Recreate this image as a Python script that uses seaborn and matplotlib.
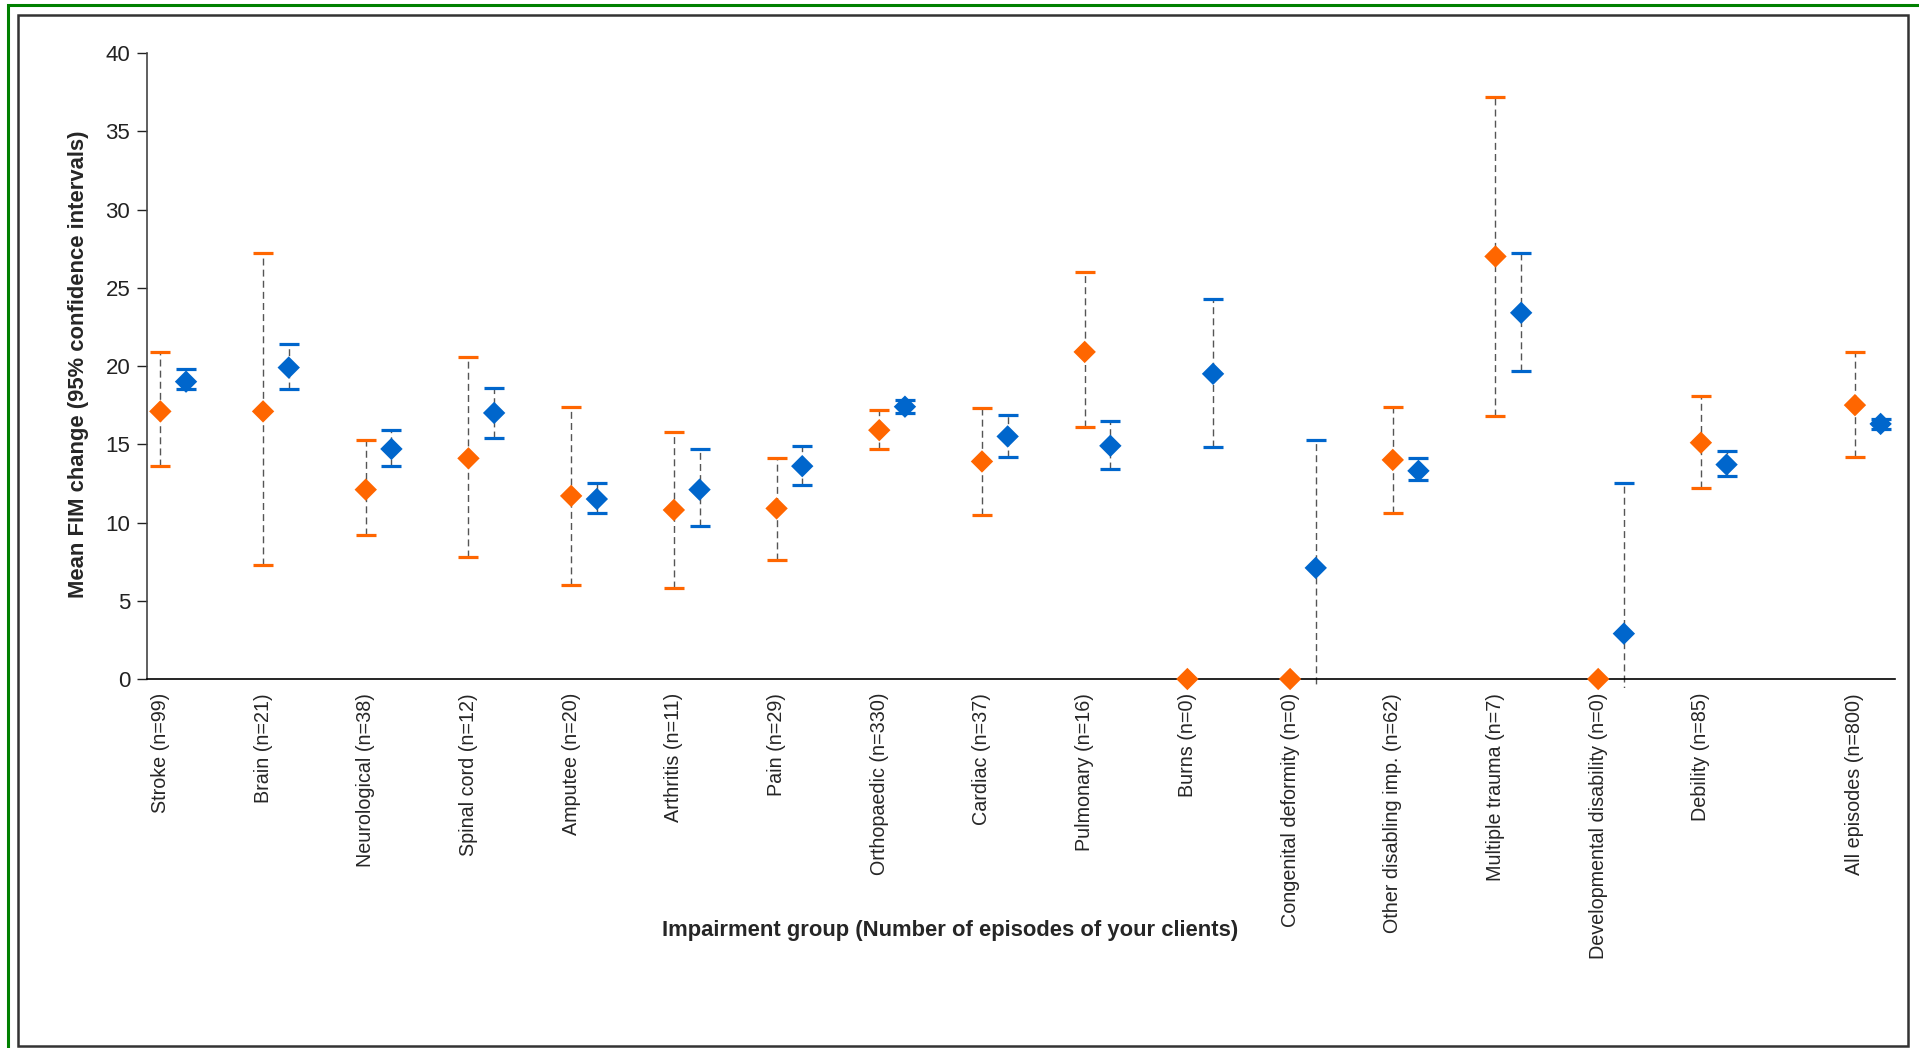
import numpy as np
import pandas as pd
import matplotlib
matplotlib.use('Agg')
import matplotlib.pyplot as plt
import seaborn as sns
from matplotlib.patches import Rectangle

groups = ['Stroke (n=99)', 'Brain (n=21)', 'Neurological (n=38)', 'Spinal cord (n=12)',
          'Amputee (n=20)', 'Arthritis (n=11)', 'Pain (n=29)', 'Orthopaedic (n=330)',
          'Cardiac (n=37)', 'Pulmonary (n=16)', 'Burns (n=0)', 'Congenital deformity (n=0)',
          'Other disabling imp. (n=62)', 'Multiple trauma (n=7)',
          'Developmental disability (n=0)', 'Debility (n=85)', 'All episodes (n=800)']

# your clients (orange)
own_mean = [17.1, 17.1, 12.1, 14.1, 11.7, 10.8, 10.9, 15.9, 13.9, 20.9, 0.0, 0.0, 14.0, 27.0, 0.0, 15.1, 17.5]
own_low = [13.6, 7.3, 9.2, 7.8, 6.0, 5.8, 7.6, 14.7, 10.5, 16.1, np.nan, np.nan, 10.6, 16.8, np.nan, 12.2, 14.2]
own_high = [20.9, 27.2, 15.3, 20.6, 17.4, 15.8, 14.1, 17.2, 17.3, 26.0, np.nan, np.nan, 17.4, 37.2, np.nan, 18.1, 20.9]

# all clients (blue)
all_mean = [19.0, 19.9, 14.7, 17.0, 11.5, 12.1, 13.6, 17.4, 15.5, 14.9, 19.5, 7.1, 13.3, 23.4, 2.9, 13.7, 16.3]
all_low = [18.5, 18.5, 13.6, 15.4, 10.6, 9.8, 12.4, 17.0, 14.2, 13.4, 14.8, -1.0, 12.7, 19.7, -6.6, 13.0, 16.0]
all_high = [19.8, 21.4, 15.9, 18.6, 12.5, 14.7, 14.9, 17.8, 16.9, 16.5, 24.3, 15.3, 14.1, 27.2, 12.5, 14.6, 16.6]

series = ['Your clients', 'All clients']
colors = {'Your clients': '#FF6600', 'All clients': '#0066CC'}

pos = np.arange(len(groups), dtype=float)
pos[-1] += 0.5  # gap before the "All episodes" group
offset = {'Your clients': 0.0, 'All clients': 0.25}

df = pd.concat([
    pd.DataFrame({'group': groups, 'series': s, 'mean': m, 'low': lo, 'high': hi})
    for s, m, lo, hi in [('Your clients', own_mean, own_low, own_high),
                         ('All clients', all_mean, all_low, all_high)]
], ignore_index=True)
df['x'] = np.tile(pos, 2) + df['series'].map(offset)

sns.set_theme(style='white')
plt.rcParams['font.family'] = ['Liberation Sans', 'DejaVu Sans']

W, H = 1919, 1048
fig = plt.figure(figsize=(W / 100, H / 100), dpi=100)
ax = fig.add_axes([147 / W, 1 - 688.4 / H, 1748 / W, 635.4 / H])

# dashed CI lines
ax.vlines(df['x'], df['low'], df['high'], colors='#555555', linewidths=1.0,
          linestyles=(0, (5, 3)), zorder=1)
# coloured caps
for s in series:
    d = df[df.series == s]
    ax.plot(d['x'], d['low'], ls='none', marker='_', ms=14.5, mew=2.3, color=colors[s], zorder=2)
    ax.plot(d['x'], d['high'], ls='none', marker='_', ms=14.5, mew=2.3, color=colors[s], zorder=2)

sns.scatterplot(data=df, x='x', y='mean', hue='series', palette=colors, marker='D',
                s=130, linewidth=0, legend=False, ax=ax, zorder=3, clip_on=False)

# spines first: moving a spine resets the ticks
sns.despine(ax=ax)
ax.spines['bottom'].set_position(('data', 0))
ax.spines['bottom'].set_color('black')
ax.spines['bottom'].set_linewidth(1.2)
ax.spines['left'].set_bounds(0, 40)
ax.spines['left'].set_color('#444444')
ax.spines['left'].set_linewidth(1.2)

ax.set_xlim(-0.13, 16.89)
ax.set_ylim(-0.6, 40)
ax.set_yticks(range(0, 41, 5))
ax.set_xticks(pos)
ax.set_xticklabels(groups, rotation=90, fontsize=14.2, va='top', ha='center')
ax.tick_params(axis='y', labelsize=16, length=7, width=1, colors='#222222', pad=5, left=True)
ax.tick_params(axis='x', length=0, pad=10)

ax.set_xlabel('Impairment group (Number of episodes of your clients)', fontsize=15.8, fontweight='bold')
ax.xaxis.set_label_coords((950 - 147) / 1748, (688.4 - 920) / 635.4)
ax.set_ylabel('Mean FIM change (95% confidence intervals)', fontsize=15.8, fontweight='bold')
ax.yaxis.set_label_coords((89 - 147) / 1748, 0.51)

# frames around the chart
fig.patches.append(Rectangle((8 / W, -0.01), 1.02, 1 - 5 / H + 0.01, transform=fig.transFigure,
                             fill=False, edgecolor='#008000', linewidth=2.2))
fig.patches.append(Rectangle((18 / W, 1 - 1046 / H), (1908 - 18) / W, (1046 - 15) / H,
                             transform=fig.transFigure, fill=False, edgecolor='#333333',
                             linewidth=1.8))

fig.savefig('out.png', dpi=100)
